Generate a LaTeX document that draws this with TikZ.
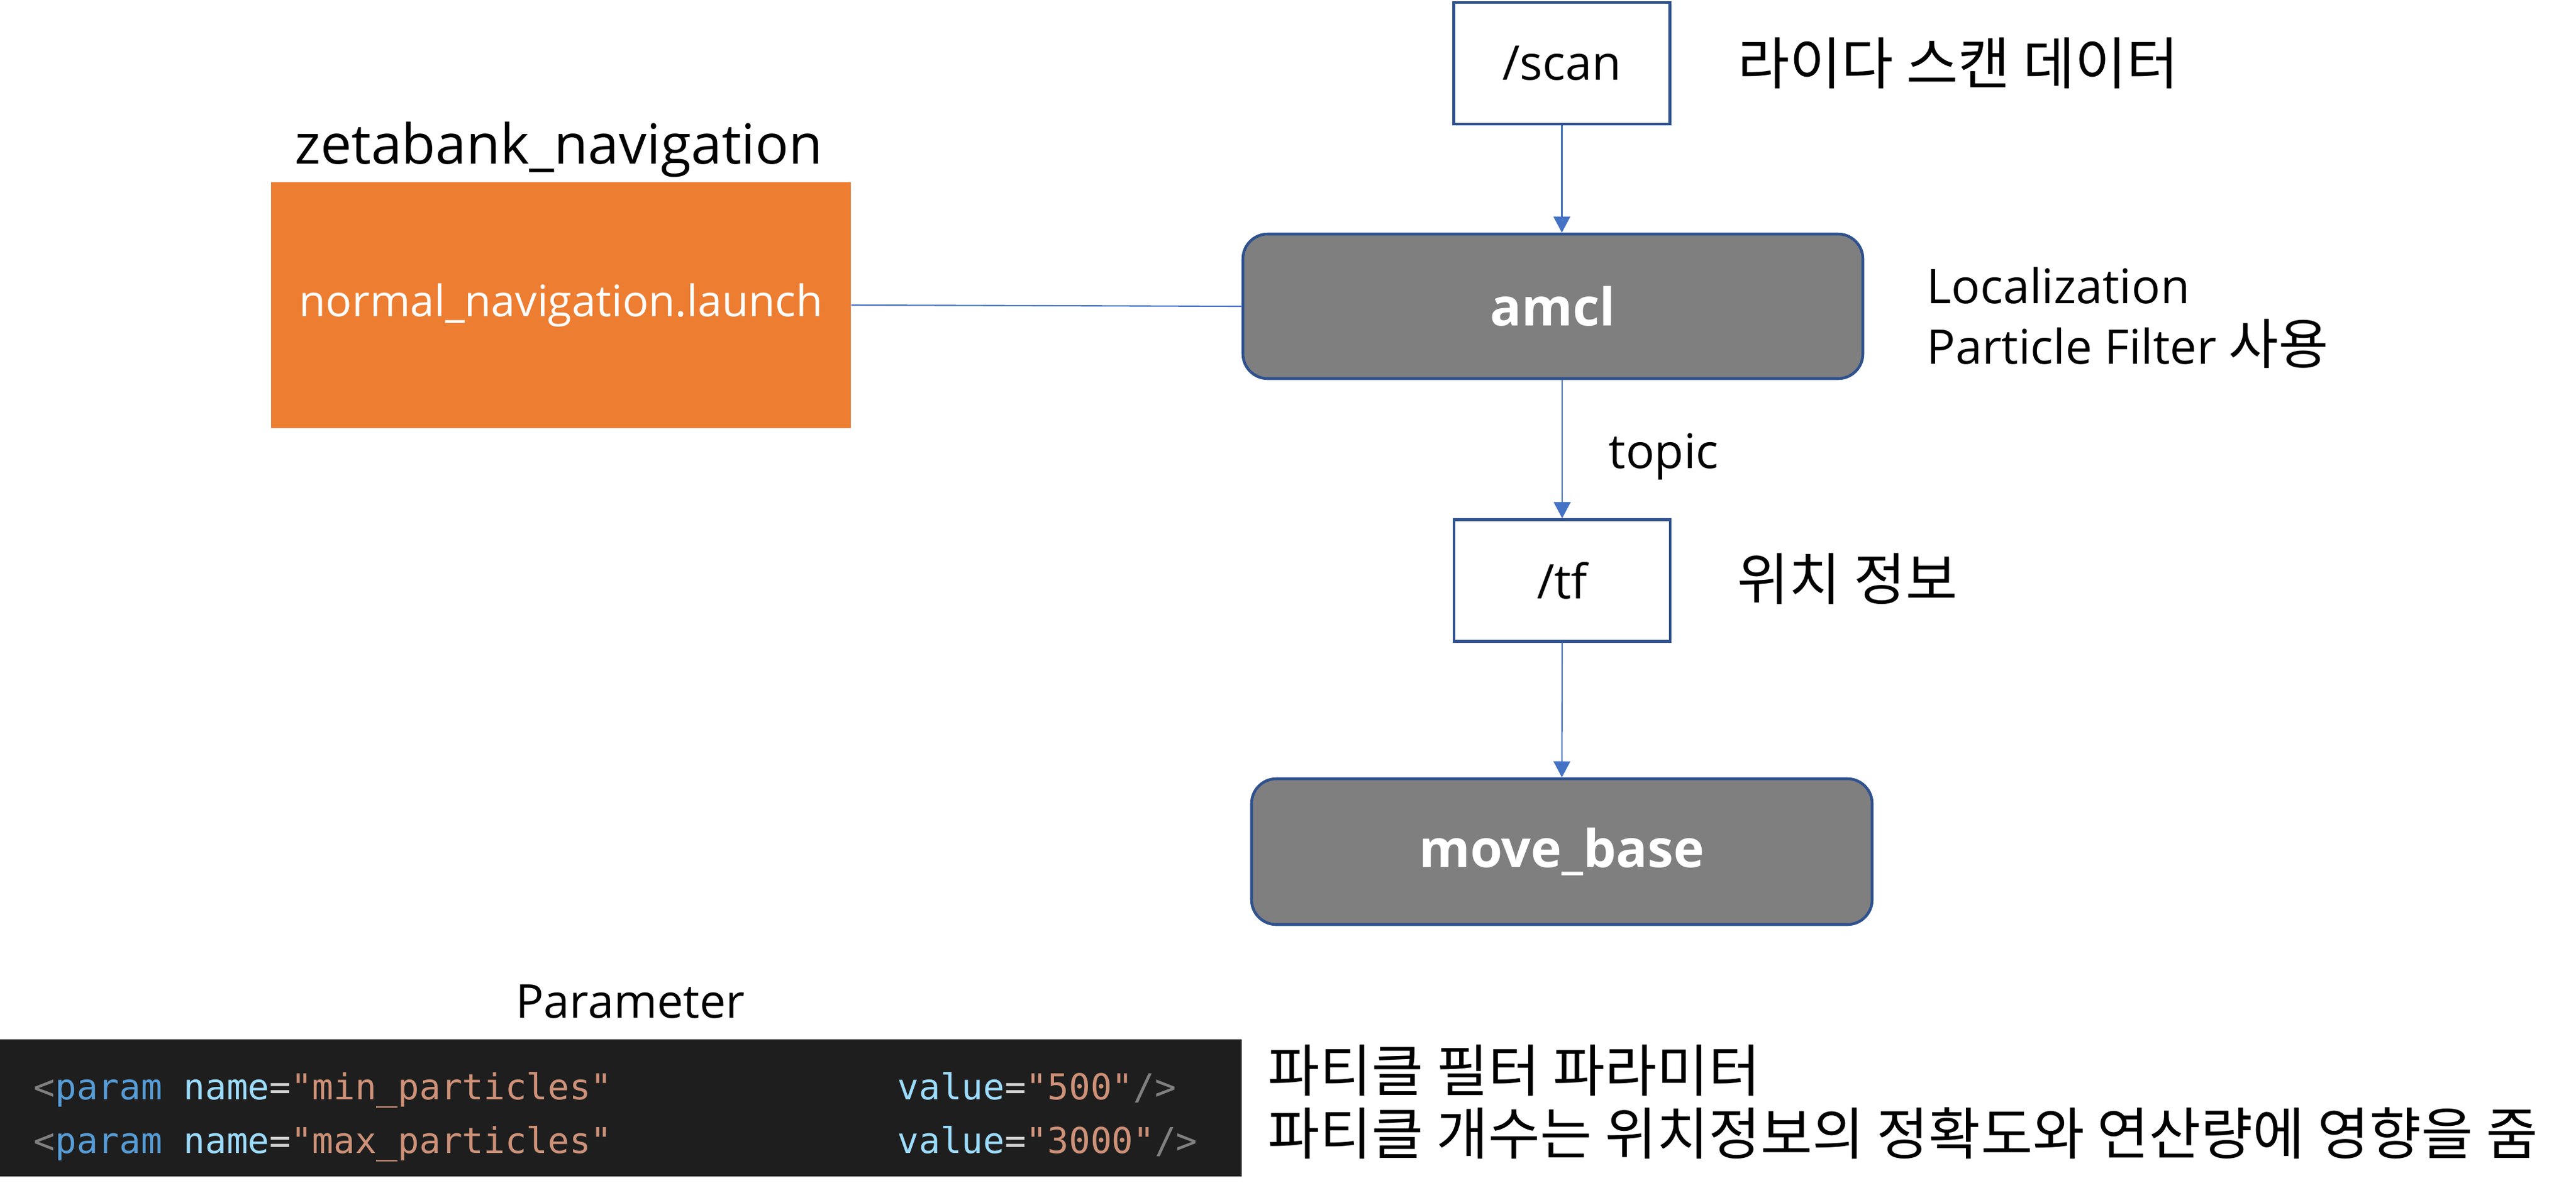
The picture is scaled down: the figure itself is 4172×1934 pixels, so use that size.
\documentclass[tikz,border=0pt]{standalone}
\usepackage{fontspec}
\setmainfont{Open Sans}
\newfontfamily\kr{Noto Sans CJK KR}
\newfontfamily\codefont{DejaVu Sans Mono}
\usepackage{xcolor}
\usepackage{tikz}
\usetikzlibrary{shapes.geometric, arrows.meta}

\definecolor{boxblue}{HTML}{2F528F}
\definecolor{arrowblue}{HTML}{4472C4}
\definecolor{launchorange}{HTML}{ED7D31}
\definecolor{nodegray}{HTML}{7F7F7F}
\definecolor{codebg}{HTML}{1E1E1E}
\definecolor{codegray}{HTML}{808080}
\definecolor{codekey}{HTML}{569CD6}
\definecolor{codeattr}{HTML}{9CDCFE}
\definecolor{codeeq}{HTML}{D4D4D4}
\definecolor{codestr}{HTML}{CE9178}

\tikzstyle{topicbox} = [draw=boxblue, line width=1.3pt, fill=white, minimum width=3.5cm, minimum height=1.97cm]
\tikzstyle{nodebox} = [draw=boxblue, line width=1.3pt, fill=nodegray, rounded corners=4mm, minimum width=10.04cm, minimum height=2.34cm, text=white, font=\bfseries\fontsize{24}{29}\selectfont]
\tikzstyle{launchbox} = [fill=launchorange, minimum width=9.39cm, minimum height=3.98cm, text=white, font=\fontsize{20}{24}\selectfont]
\tikzstyle{note} = [inner sep=0pt]
\tikzstyle{krnote} = [inner sep=0pt, anchor=west, font=\kr\fontsize{26}{30}\selectfont]
\tikzstyle{codeline} = [inner sep=0pt, anchor=base west, font=\codefont\fontsize{16.4}{20}\selectfont]
\tikzstyle{arrow} = [draw=arrowblue, line width=0.6pt, -{Triangle[length=2.6mm,width=2.7mm]}]
\tikzstyle{link} = [draw=arrowblue, line width=0.6pt]

\begin{document}
\begin{tikzpicture}[x=0.1mm,y=-0.1mm]
	\useasboundingbox (0,0) rectangle (4172,1934);
	\begin{scope}[font=\fontsize{22}{26}\selectfont]
		
		% Launch file:
		\node (pkg) at (905,265) [note, anchor=base] {\fontsize{25.5}{30}\selectfont zetabank\_navigation};
		\node (launch) at (908.5,494) [launchbox] {normal\_navigation.launch};
		
		% Topics and ROS nodes:
		\node (scan) at (2529.5,102.5) [topicbox] {/scan};
		\node (amcl) at (2515,496) [nodebox] {amcl};
		\node (tf) at (2530,940) [topicbox] {/tf};
		\node (movebase) at (2529.5,1379) [nodebox, minimum width=10.05cm, minimum height=2.36cm] {move\_base};
		
		% Notes:
		\node (scannote) at (2814,102) [krnote] {라이다 스캔 데이터};
		\node (amclnote1) at (3120,491) [note, anchor=base west] {Localization};
		\node (amclnote2) at (3120,589) [note, anchor=base west] {Particle Filter {\kr\fontsize{25}{30}\selectfont 사용}};
		\node (topic) at (2605,758) [note, anchor=base west] {topic};
		\node (tfnote) at (2813,937) [krnote] {위치 정보};
		
		% Connectors:
		\draw [link] (launch.east) -- (amcl.west);
		\draw [arrow] (scan.south) -- (scan.south |- amcl.north);
		\draw [arrow] (amcl.south -| tf.north) -- (tf.north);
		\draw [arrow] (tf.south) -- (movebase.north);
		
		% Parameter:
		\node (param) at (1021,1648) [note, anchor=base, font=\fontsize{21.5}{26}\selectfont] {Parameter};
		\node (codeblock) at (1005.5,1794) [fill=codebg, minimum width=20.11cm, minimum height=2.22cm] {};
		\node (minp) at (54,1780) [codeline] {\textcolor{codegray}{<}\textcolor{codekey}{param} \textcolor{codeattr}{name}\textcolor{codeeq}{=}\textcolor{codestr}{"min\_particles"}};
		\node (minv) at (1453,1780) [codeline] {\textcolor{codeattr}{value}\textcolor{codeeq}{=}\textcolor{codestr}{"500"}\textcolor{codegray}{/>}};
		\node (maxp) at (54,1867) [codeline] {\textcolor{codegray}{<}\textcolor{codekey}{param} \textcolor{codeattr}{name}\textcolor{codeeq}{=}\textcolor{codestr}{"max\_particles"}};
		\node (maxv) at (1453,1867) [codeline] {\textcolor{codeattr}{value}\textcolor{codeeq}{=}\textcolor{codestr}{"3000"}\textcolor{codegray}{/>}};
		\node (paramnote1) at (2053,1733) [krnote] {파티클 필터 파라미터};
		\node (paramnote2) at (2053,1835) [krnote] {파티클 개수는 위치정보의 정확도와 연산량에 영향을 줌};
		
	\end{scope}
\end{tikzpicture}
\end{document}
